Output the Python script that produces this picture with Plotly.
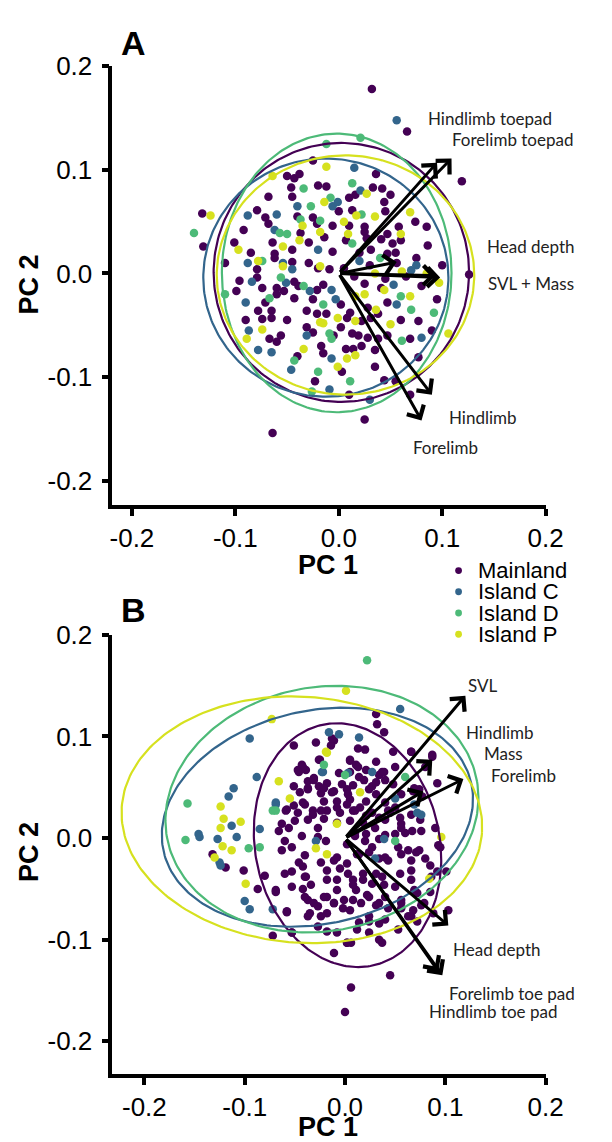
import numpy as np
import plotly.graph_objects as go

# ---------------- data ----------------
groups = ["Mainland", "Island C", "Island D", "Island P"]
group_colors = ["#440154", "#33658C", "#4DBA78", "#D6E11F"]
tick_vals = [-0.2, -0.1, 0.0, 0.1, 0.2]
tick_text = ["-0.2", "-0.1", "0.0", "0.1", "0.2"]

# Panel A points
A_mainland = [(0.066,0.137),(-0.025,0.109),(0.036,0.096),(-0.050,0.094),(-0.043,0.092),(-0.038,0.096),(-0.046,0.083),(-0.012,0.084),(0.033,0.083),(0.042,0.082),(0.016,0.076),(0.010,0.073),(0.050,0.076),(-0.045,0.074),(-0.068,0.074),(0.044,0.069),(-0.132,0.058),(-0.079,0.061),(0.013,0.061),(-0.071,0.054),(-0.068,0.048),(-0.025,0.054),(-0.021,0.048),(-0.006,0.046),(0.010,0.046),(-0.092,0.042),(-0.037,0.039),(-0.014,0.035),(0.025,0.040),(0.047,0.038),(-0.131,0.026),(-0.101,0.030),(-0.064,0.030),(-0.045,0.023),(-0.029,0.030),(-0.006,0.021),(0.007,0.032),(0.027,0.034),(0.041,0.033),(0.052,0.029),(0.060,0.032),(-0.079,0.004),(-0.062,0.019),(-0.062,0.015),(-0.045,0.011),(-0.029,0.010),(-0.020,0.005),(-0.009,0.004),(0.031,0.023),(0.047,0.019),(0.056,0.010),
    (-0.096,-0.007),(-0.079,-0.004),(-0.099,-0.017),(-0.074,-0.014),(-0.060,-0.014),(-0.053,-0.017),(-0.043,-0.008),(-0.039,-0.012),(-0.021,-0.016),(-0.015,-0.011),(-0.071,-0.028),(-0.060,-0.020),(-0.043,-0.024),(-0.025,-0.025),(0.002,-0.030),(0.041,-0.014),(0.047,-0.028),(0.028,-0.033),(-0.078,-0.036),(-0.065,-0.036),(-0.065,-0.043),(-0.031,-0.036),(-0.021,-0.039),(-0.012,-0.039),(0.008,-0.043),(0.011,-0.038),(0.022,-0.046),(0.031,-0.043),(0.038,-0.039),(-0.074,-0.044),(-0.031,-0.052),(-0.025,-0.057),(0.002,-0.052),(0.013,-0.058),(0.019,-0.060),(0.028,-0.062),(0.038,-0.063),(0.047,-0.060),(0.069,-0.063),(-0.067,-0.063),(-0.060,-0.066),(-0.056,-0.060),(-0.017,-0.070),(-0.015,-0.077),(0.007,-0.073),(0.014,-0.073),(0.022,-0.070),(0.035,-0.074),(0.003,-0.095),(-0.023,-0.104),(-0.064,-0.154),(0.025,-0.141),(0.010,-0.117),(0.055,-0.104),(0.044,-0.103),
    (0.119,0.089),(0.074,0.050),(0.086,0.027),(0.100,0.008),(0.126,-0.001),(0.095,-0.025),(0.077,-0.046),(0.077,-0.081),(0.069,-0.117),(0.032,0.178),
    (0.005,0.005),(0.015,-0.003),(0.030,0.008),(0.045,-0.005),(0.025,-0.010),(0.055,0.020),(0.075,0.015),(0.080,-0.012),(0.058,0.045),(0.025,0.045),(0.045,0.060),(0.065,-0.003),
    (-0.085,0.020),(-0.110,0.010),(-0.090,-0.045),(-0.050,-0.045),(-0.040,0.055),(0.000,0.060),(0.020,0.020),(0.060,-0.045),(0.085,0.045),(-0.020,0.085),(-0.005,-0.060),(0.035,-0.090),(-0.040,-0.080),(0.090,-0.055)]
A_islandC = [(0.056,0.148),(0.015,0.102),(0.021,0.080),(-0.006,0.065),(-0.001,0.069),(-0.040,0.065),(-0.088,0.056),(-0.060,0.057),(-0.062,0.042),(-0.020,0.023),(-0.088,0.010),(-0.054,0.010),(-0.045,0.004),(-0.084,-0.008),(-0.051,-0.009),(-0.028,-0.017),(-0.007,-0.016),(-0.090,-0.028),(-0.003,-0.025),(0.053,-0.011),(0.056,-0.030),(-0.031,-0.060),(-0.087,-0.055),(-0.078,-0.074),(-0.065,-0.076),(-0.007,-0.082),(-0.046,-0.093),(-0.009,-0.112),(0.030,-0.122),(0.075,0.008),(0.080,-0.062),(0.020,0.012),(0.070,0.003)]
A_islandD = [(-0.012,0.125),(0.021,0.131),(-0.034,0.082),(0.013,0.087),(-0.008,0.073),(-0.027,0.065),(0.022,0.057),(-0.037,0.052),(-0.018,0.051),(-0.057,0.039),(-0.050,0.038),(-0.140,0.039),(0.013,0.029),(-0.074,0.012),(-0.056,-0.004),(-0.034,-0.012),(-0.110,-0.020),(-0.067,-0.024),(-0.015,-0.030),(0.060,-0.022),(-0.009,-0.058),(-0.007,-0.063),(0.061,-0.065),(-0.043,-0.084),(-0.020,-0.095),(0.011,-0.104),(-0.026,-0.114),(0.092,-0.038),(0.040,0.015),(0.070,-0.035)]
A_islandP = [(-0.012,0.103),(-0.064,0.094),(0.027,0.077),(-0.014,0.069),(-0.124,0.056),(0.017,0.056),(-0.035,0.046),(0.005,0.050),(-0.018,0.040),(0.009,0.038),(0.060,0.038),(-0.097,0.023),(-0.054,0.026),(-0.038,0.032),(-0.078,0.012),(-0.054,0.007),(-0.018,0.007),(0.061,0.002),(0.025,-0.020),(0.016,-0.022),(0.044,-0.016),(0.069,-0.022),(-0.001,-0.043),(0.016,-0.046),(0.036,-0.035),(0.050,-0.049),(-0.074,-0.054),(-0.018,-0.047),(-0.015,-0.048),(-0.089,-0.063),(-0.034,-0.073),(0.008,-0.082),(0.016,-0.079),(-0.001,-0.090),(0.069,0.059),(0.097,-0.009),(0.106,-0.058),(0.035,0.0),(0.085,0.0),(0.035,0.055)]

# Panel B points
B_mainland = [(0.031,0.122),(0.032,0.112),(0.039,0.104),(-0.011,0.096),(-0.014,0.091),(-0.051,0.091),(-0.029,0.094),(0.020,0.087),(0.048,0.085),(-0.025,0.077),(-0.043,0.072),(-0.047,0.067),(-0.039,0.067),(0.005,0.076),(0.011,0.072),(0.031,0.075),(0.021,0.067),(-0.006,0.064),(0.014,0.060),(0.037,0.065),(0.040,0.057),(-0.037,0.056),(-0.031,0.059),(-0.026,0.051),(-0.018,0.054),(-0.037,0.048),(-0.024,0.044),(-0.011,0.046),(0.002,0.048),(0.008,0.052),(0.027,0.051),(0.031,0.043),(-0.042,0.035),(-0.021,0.036),(-0.008,0.036),(0.005,0.038),(0.021,0.036),(0.040,0.035),(-0.058,0.028),(-0.047,0.025),(-0.032,0.027),(-0.018,0.027),(-0.005,0.025),(0.008,0.027),(0.027,0.025),(0.050,0.030),(-0.063,0.014),(-0.050,0.017),(-0.037,0.018),(-0.027,0.010),(0.005,0.017),(0.018,0.015),(0.040,0.018),(0.056,0.014),
    (0.066,0.085),(0.087,0.082),(0.092,0.054),(0.074,0.048),(0.068,0.046),(0.076,0.007),(0.093,-0.007),(0.053,-0.009),(0.063,-0.012),(0.071,-0.014),(0.101,-0.033),(0.092,-0.033),(0.066,-0.032),(0.072,-0.054),(0.085,-0.053),(0.103,-0.071),(0.076,-0.066),(0.056,-0.069),(0.066,-0.077),(0.045,-0.135),(0.068,-0.071),
    (-0.132,-0.016),(-0.119,-0.029),(-0.101,-0.032),(-0.087,-0.050),(-0.080,-0.037),(-0.069,-0.051),(-0.072,-0.096),(-0.053,-0.093),(-0.058,-0.073),(-0.060,-0.003),(-0.053,-0.033),(-0.042,-0.028),(-0.039,-0.038),(-0.042,-0.050),(-0.037,-0.061),(-0.027,-0.067),(-0.024,-0.077),(-0.035,-0.074),(-0.018,-0.041),(-0.024,-0.024),(-0.011,-0.022),(-0.005,-0.030),(-0.008,-0.051),(-0.018,-0.058),(-0.011,-0.064),(-0.002,-0.069),(0.008,-0.061),(0.011,-0.051),(0.008,-0.041),(0.018,-0.035),(0.027,-0.045),(0.037,-0.038),(0.022,-0.056),(0.031,-0.066),(0.040,-0.058),(0.050,-0.048),(0.056,-0.061),(0.014,-0.083),(0.024,-0.082),(-0.018,-0.092),(0.002,-0.103),(0.006,-0.103),(0.037,-0.103),(-0.011,-0.113),(0.006,-0.147),(0.000,-0.171),(0.002,-0.006),(0.014,-0.016),(0.027,-0.009),(0.040,-0.019),
    (0.010,0.005),(0.020,-0.003),(0.030,0.010),(0.040,0.003),(0.015,0.030),(0.045,0.025),(0.060,0.005),(0.050,0.070),(0.080,0.070),(0.090,0.010),(0.080,-0.020)]
B_mainland_core = [(-0.013,0.098),(0.013,0.088),(0.066,0.085),(0.087,0.080),(-0.042,0.070),(-0.046,0.065),(-0.026,0.077),(0.005,0.077),(0.013,0.070),(0.034,0.062),(0.019,0.057),(0.005,0.065),(0.039,0.065),(-0.031,0.057),(-0.037,0.049),(-0.021,0.049),(-0.013,0.045),(-0.003,0.053),(0.003,0.043),(0.024,0.048),(0.031,0.055),(0.048,0.053),(0.056,0.043),(0.069,0.049),(0.077,0.041),(-0.051,0.051),(-0.045,0.045),(-0.059,0.027),(-0.051,0.032),(-0.040,0.033),(-0.032,0.023),(-0.024,0.027),(-0.008,0.030),(0.002,0.033),(-0.021,0.019),(-0.008,0.015),(0.010,0.027),(0.021,0.022),(0.034,0.020),(0.043,0.027),(0.055,0.020),(0.066,0.023),(0.075,0.018),
    (-0.066,0.007),(-0.056,0.010),(-0.043,0.002),(-0.027,0.001),(-0.019,-0.003),(0.010,0.002),(0.021,0.004),(0.034,-0.001),(0.050,0.004),(0.056,0.010),(0.067,0.007),(0.095,-0.009),(-0.063,-0.012),(-0.053,-0.009),(-0.040,-0.017),(-0.046,-0.024),(-0.008,-0.019),(0.002,-0.025),(0.012,-0.016),(0.024,-0.014),(0.034,-0.020),(0.043,-0.022),(0.056,-0.016),(0.066,-0.022),(0.074,-0.012),(0.085,-0.027),
    (-0.060,-0.035),(-0.040,-0.038),(-0.053,-0.048),(-0.034,-0.046),(-0.018,-0.032),(-0.008,-0.041),(0.003,-0.035),(0.008,-0.046),(0.018,-0.041),(0.031,-0.035),(0.039,-0.046),(0.055,-0.035),(0.066,-0.041),(0.069,-0.051),(0.086,-0.038),(-0.069,-0.053),(-0.040,-0.058),(-0.031,-0.064),(-0.021,-0.058),(-0.011,-0.064),(-0.001,-0.061),(0.005,-0.071),(0.016,-0.064),(0.024,-0.058),(0.034,-0.064),(0.043,-0.069),(0.056,-0.064),(0.063,-0.077),(0.079,-0.064),(0.088,-0.074),(-0.058,-0.072),(-0.037,-0.077),(-0.018,-0.074),(0.024,-0.077),(0.040,-0.080),(-0.027,-0.087),(-0.008,-0.093),(0.012,-0.090),(0.024,-0.093),(0.034,-0.084),(0.053,-0.090),(0.072,-0.082),(-0.053,-0.093),(0.002,-0.103),(0.034,-0.100)]
B_islandC = [(0.055,0.127),(-0.095,0.098),(-0.016,0.104),(-0.006,0.102),(0.014,0.099),(-0.022,0.065),(0.003,0.064),(0.027,0.065),(-0.088,0.060),(-0.111,0.049),(-0.116,0.041),(-0.069,0.035),(0.050,0.039),(-0.113,0.012),(-0.146,0.004),(-0.085,0.009),(0.069,0.033),(0.076,0.023),(-0.145,0.001),(-0.127,-0.001),(-0.108,0.001),(-0.125,-0.024),(-0.124,-0.027),(-0.100,-0.062),(-0.095,-0.070),(-0.072,-0.070),(0.030,-0.020),(-0.069,0.033),(0.072,0.025),(-0.029,-0.003),(0.039,-0.001),(-0.023,0.065)]
B_islandD = [(0.022,0.175),(-0.021,0.072),(0.000,0.062),(-0.157,0.034),(-0.072,0.027),(0.050,-0.003),(-0.159,-0.002),(-0.096,-0.010),(-0.085,-0.009),(0.060,0.060),(-0.069,0.027)]
B_islandP = [(0.001,0.145),(-0.073,0.117),(-0.018,0.084),(-0.066,0.056),(0.015,0.045),(-0.055,0.039),(-0.124,0.031),(-0.121,0.019),(-0.104,0.016),(-0.124,0.010),(-0.008,0.014),(0.096,0.001),(0.084,-0.040),(-0.122,-0.008),(-0.113,-0.012),(-0.130,-0.019),(-0.099,-0.045),(-0.029,-0.010),(-0.018,-0.016),(-0.019,0.085)]

# 95% ellipses: centre x, centre y, semi-axis x, semi-axis y, rotation (deg)
A_ellipses = [(0.0025, 0.001, 0.1235, 0.125, 0), (-0.0125, -0.004, 0.1185, 0.115, 0),
              (-0.002, 0.0005, 0.111, 0.1345, 0), (0.0065, -0.0015, 0.1245, 0.1155, 0)]
B_ellipses = [(0.0025, -0.007, 0.092, 0.121, 12), (-0.0275, 0.0205, 0.157, 0.105, 12),
              (-0.023, 0.0285, 0.157, 0.12, 10), (-0.043, 0.018, 0.18, 0.121, -4)]

# loadings (arrow tips)
A_load_names = ["Hindlimb toepad", "Forelimb toepad", "Head depth", "SVL", "Mass", "Hindlimb", "Forelimb"]
A_load_x = [0.095, 0.109, 0.056, 0.098, 0.094, 0.090, 0.080]
A_load_y = [0.107, 0.111, 0.011, -0.004, -0.002, -0.117, -0.142]
B_load_names = ["SVL", "Hindlimb", "Mass", "Forelimb", "Head depth", "Forelimb toe pad", "Hindlimb toe pad"]
B_load_x = [0.120, 0.087, 0.078, 0.118, 0.103, 0.093, 0.097]
B_load_y = [0.140, 0.077, 0.046, 0.058, -0.086, -0.131, -0.135]

# label text and positions (data coords)
A_labels = [("Hindlimb toepad", 0.146, 0.150), ("Forelimb toepad", 0.168, 0.129),
            ("Head depth", 0.186, 0.026), ("SVL + Mass", 0.186, -0.010),
            ("Hindlimb", 0.139, -0.139), ("Forelimb", 0.103, -0.168)]
B_labels = [("SVL", 0.138, 0.150), ("Hindlimb", 0.155, 0.104), ("Mass", 0.158, 0.083),
            ("Forelimb", 0.178, 0.062), ("Head depth", 0.152, -0.110),
            ("Forelimb toe pad", 0.166, -0.153), ("Hindlimb toe pad", 0.148, -0.171)]

# ---------------- figure ----------------
W, H = 612, 1142
fig = go.Figure()

def ellipse_xy(cx, cy, a, b, ang):
    t = np.linspace(0, 2 * np.pi, 241)
    th = np.deg2rad(ang)
    ex = a * np.cos(t)
    ey = b * np.sin(t)
    return cx + ex * np.cos(th) - ey * np.sin(th), cy + ex * np.sin(th) + ey * np.cos(th)

def add_panel(pts_list, ells, xa, ya):
    for pts, name, col in zip(pts_list, groups, group_colors):
        fig.add_trace(go.Scatter(
            x=[p[0] for p in pts], y=[p[1] for p in pts], mode="markers",
            marker=dict(size=8.5, color=col), name=name, showlegend=False,
            xaxis=xa, yaxis=ya, hoverinfo="skip"))
    for e, col in zip(ells, group_colors):
        ex, ey = ellipse_xy(*e)
        fig.add_trace(go.Scatter(x=ex, y=ey, mode="lines", line=dict(color=col, width=2.2),
                                 showlegend=False, xaxis=xa, yaxis=ya, hoverinfo="skip"))

add_panel([A_mainland, A_islandC, A_islandD, A_islandP], A_ellipses, "x", "y")
add_panel([B_mainland + B_mainland_core, B_islandC, B_islandD, B_islandP], B_ellipses, "x2", "y2")

annotations = []
def add_arrows(xs, ys, xr, yr):
    for x, y in zip(xs, ys):
        annotations.append(dict(x=x, y=y, ax=0, ay=0, xref=xr, yref=yr, axref=xr, ayref=yr,
                                showarrow=True, arrowhead=4, arrowsize=1.25, arrowwidth=3,
                                arrowcolor="black", text=""))
def add_labels(labels, xr, yr):
    for t, x, y in labels:
        annotations.append(dict(x=x, y=y, xref=xr, yref=yr, text=t, showarrow=False,
                                font=dict(family="Lato, Carlito, sans-serif", size=17, color="#222222")))

add_arrows(A_load_x, A_load_y, "x", "y")
add_arrows(B_load_x, B_load_y, "x2", "y2")
add_labels(A_labels, "x", "y")
add_labels(B_labels, "x2", "y2")

def px(xp): return xp / W
def py(yp): return 1 - yp / H

bold = dict(family="Arial, Liberation Sans, sans-serif", size=27, color="black")
for txt, x, y in [("<b>PC 1</b>", 337, 557), ("<b>PC 1</b>", 337, 1127)]:
    annotations.append(dict(x=px(x), y=py(y), xref="paper", yref="paper", text=txt,
                            showarrow=False, font=bold, xanchor="center", yanchor="middle"))
for txt, y in [("<b>PC 2</b>", 273), ("<b>PC 2</b>", 848)]:
    annotations.append(dict(x=px(28), y=py(y), xref="paper", yref="paper", text=txt, textangle=-90,
                            showarrow=False, font=bold, xanchor="center", yanchor="middle"))
for txt, y in [("<b>A</b>", 28), ("<b>B</b>", 603)]:
    annotations.append(dict(x=px(136), y=py(y), xref="paper", yref="paper", text=txt,
                            showarrow=False, font=dict(family="Arial, Liberation Sans, sans-serif", size=34, color="black"),
                            xanchor="center", yanchor="middle"))

# legend (manual)
shapes = []
leg_y = [563, 584.5, 606, 627.5]
for name, col, yy in zip(groups, group_colors, leg_y):
    shapes.append(dict(type="circle", xref="paper", yref="paper",
                       x0=px(472 - 3.5), x1=px(472 + 3.5), y0=py(yy + 3.5), y1=py(yy - 3.5),
                       fillcolor=col, line=dict(width=0)))
    annotations.append(dict(x=px(490), y=py(yy), xref="paper", yref="paper", text=name,
                            showarrow=False, xanchor="left", yanchor="middle",
                            font=dict(family="Arial, Liberation Sans, sans-serif", size=22, color="black")))

axis_common = dict(showline=True, linewidth=3.5, linecolor="black", ticks="outside", ticklen=7,
                   tickwidth=3.5, tickcolor="black", showgrid=False, zeroline=False,
                   tickvals=tick_vals, ticktext=tick_text, mirror=False,
                   tickfont=dict(family="Arial, Liberation Sans, sans-serif", size=26, color="black"))

fig.update_layout(
    width=W, height=H, margin=dict(l=0, r=0, t=0, b=0),
    paper_bgcolor="white", plot_bgcolor="white", showlegend=False,
    xaxis=dict(domain=[px(114), px(562)], range=[-0.219, 0.2], anchor="y", **axis_common),
    yaxis=dict(domain=[py(497), py(52)], range=[-0.224, 0.2], anchor="x", ticklabelstandoff=4, **axis_common),
    xaxis2=dict(domain=[px(114), px(562)], range=[-0.232, 0.2], anchor="y2", **axis_common),
    yaxis2=dict(domain=[py(1073), py(628)], range=[-0.232, 0.2], anchor="x2", ticklabelstandoff=4, **axis_common),
    annotations=annotations, shapes=shapes,
)

fig.write_html("out.html", config={"displayModeBar": False},
               post_script="document.body.style.margin='0';")
